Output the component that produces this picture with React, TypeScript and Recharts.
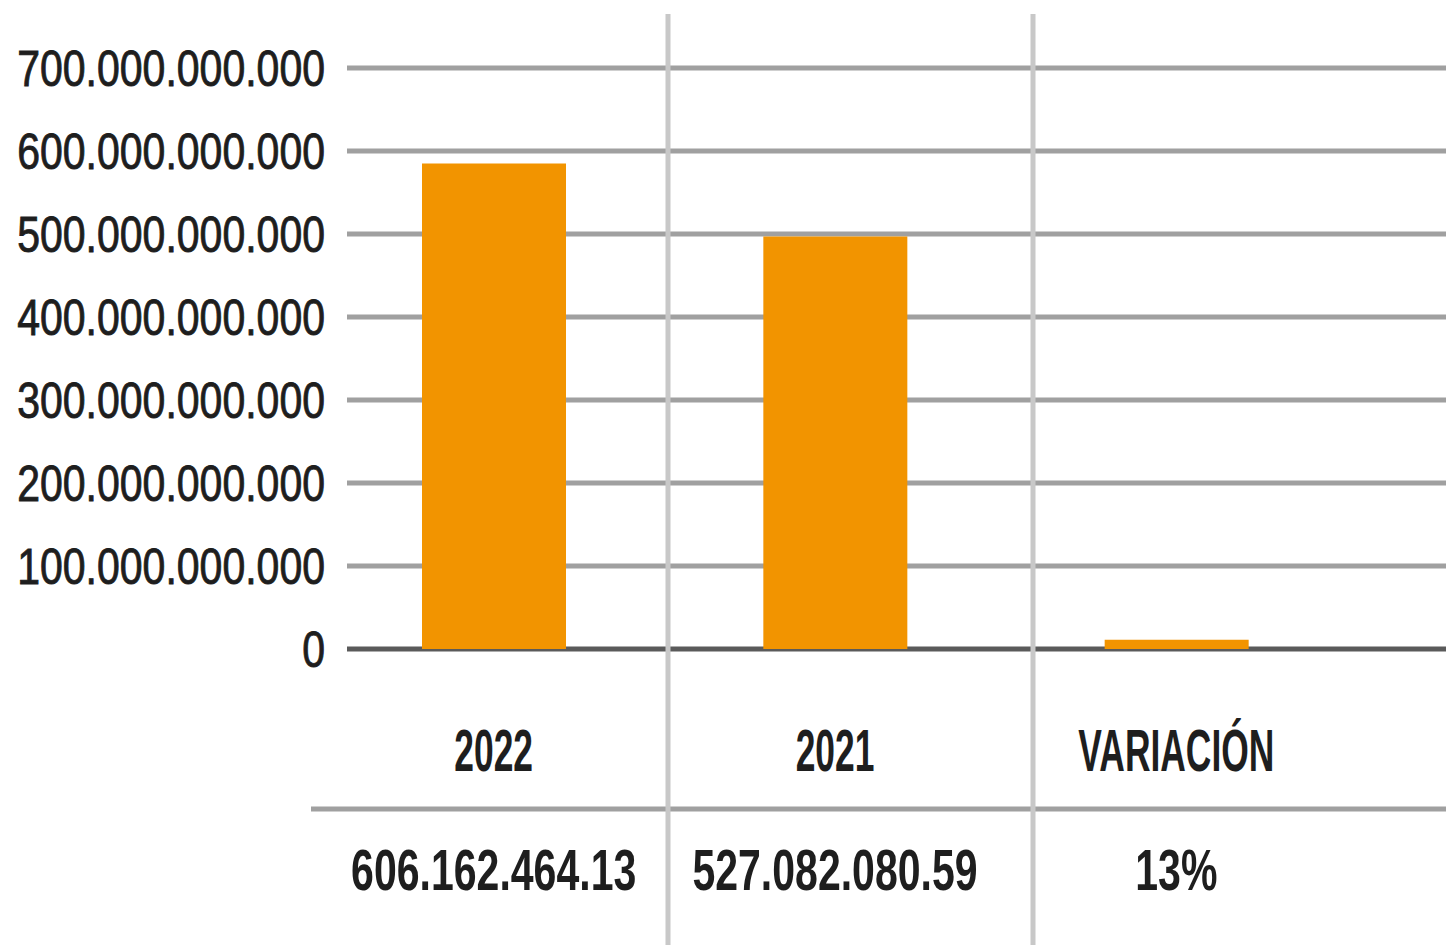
import React from 'react';
import { BarChart, Bar, XAxis, YAxis, CartesianGrid } from 'recharts';

// ---- data ----
const categories = ['2022', '2021', 'VARIACIÓN'];
const barValues = [585e9, 497e9, 11e9];
const tableValues = ['606.162.464.13', '527.082.080.59', '13%'];
const yTicks = [0, 100e9, 200e9, 300e9, 400e9, 500e9, 600e9, 700e9];
const grayGridValues = [100e9, 200e9, 300e9, 400e9, 500e9, 600e9, 700e9];
const zeroLineValues = [0];

const data = categories.map((c, i) => ({ category: c, value: barValues[i] }));

const FONT = '"Liberation Sans", Arial, sans-serif';
const TEXT_COLOR = '#1e1e1e';

const formatThousands = (v: number) =>
  v === 0 ? '0' : Math.round(v).toString().replace(/\B(?=(\d{3})+(?!\d))/g, '.');

const YTick = (props: any) => {
  const { x, y, payload } = props;
  return (
    <g transform={`translate(${x},${y}) scale(0.82,1)`}>
      <text
        x={0}
        y={0}
        dy="0.355em"
        textAnchor="end"
        fontFamily={FONT}
        fontSize={50}
        fill={TEXT_COLOR}
        stroke={TEXT_COLOR}
        strokeWidth={0.9}
      >
        {formatThousands(payload.value)}
      </text>
    </g>
  );
};

const XTick = (props: any) => {
  const { x, y, payload, index } = props;
  const i = typeof payload.index === 'number' ? payload.index : index;
  return (
    <g>
      <g transform={`translate(${x},${y}) scale(0.6,1)`}>
        <text x={0} y={122} textAnchor="middle" fontFamily={FONT} fontWeight="bold" fontSize={59} fill={TEXT_COLOR}>
          {payload.value}
        </text>
      </g>
      <g transform={`translate(${x},${y}) scale(0.72,1)`}>
        <text x={0} y={241.5} textAnchor="middle" fontFamily={FONT} fontWeight="bold" fontSize={57} fill={TEXT_COLOR}>
          {tableValues[i]}
        </text>
      </g>
    </g>
  );
};

export default function App() {
  return (
    <div style={{ position: 'absolute', left: 0, top: 0, width: 1446, height: 945, background: '#ffffff' }}>
      <BarChart
        width={1446}
        height={945}
        data={data}
        margin={{ top: 68, right: 99, bottom: 0, left: 0 }}
      >
        <CartesianGrid
          vertical={false}
          horizontalValues={grayGridValues}
          x={347}
          width={1099}
          stroke="#a0a0a0"
          strokeWidth={5}
        />
        <CartesianGrid
          vertical={false}
          horizontalValues={zeroLineValues}
          x={347}
          width={1099}
          stroke="#5a5a5a"
          strokeWidth={5}
        />
        <CartesianGrid
          vertical={false}
          horizontalPoints={[809]}
          x={311}
          width={1135}
          stroke="#a0a0a0"
          strokeWidth={5}
        />
        <CartesianGrid
          horizontal={false}
          verticalPoints={[668, 1033]}
          y={14}
          height={931}
          stroke="#c8c8c8"
          strokeWidth={5}
        />
        <YAxis
          type="number"
          domain={[0, 700e9]}
          ticks={yTicks}
          interval={0}
          width={323}
          axisLine={false}
          tickLine={false}
          tickSize={0}
          tickMargin={-2}
          tick={<YTick />}
        />
        <XAxis
          dataKey="category"
          type="category"
          height={296}
          interval={0}
          axisLine={false}
          tickLine={false}
          tickSize={0}
          tickMargin={0}
          tick={<XTick />}
        />
        <Bar dataKey="value" fill="#f29400" barSize={144} isAnimationActive={false} />
      </BarChart>
    </div>
  );
}
